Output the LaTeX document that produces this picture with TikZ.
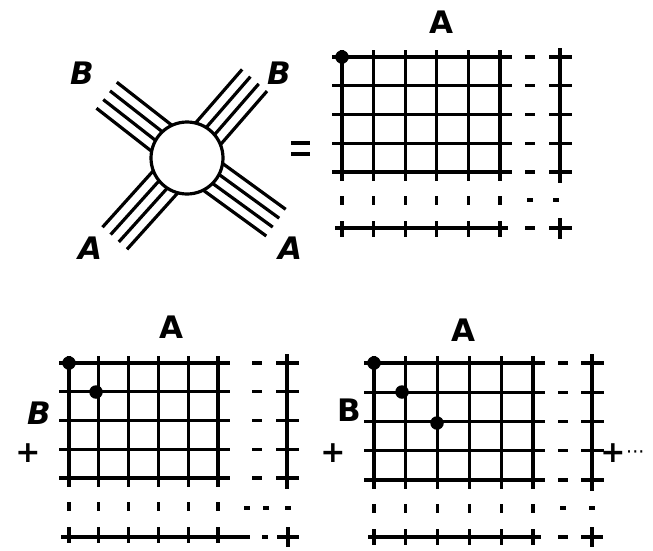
\documentclass[tikz,border=0pt]{standalone}
\usepackage{fontspec}
\setsansfont{DejaVu Sans}
\usetikzlibrary{calc}
\tikzset{
  ln/.style={line width=3.2pt},
  lbl/.style={font=\sffamily\bfseries\fontsize{31}{31}\selectfont, inner sep=0pt},
  lbli/.style={font=\sffamily\bfseries\itshape\fontsize{31}{31}\selectfont, inner sep=0pt},
  plusl/.style={font=\sffamily\bfseries\fontsize{30}{30}\selectfont, inner sep=0pt},
  dotsl/.style={font=\sffamily\fontsize{19}{19}\selectfont, inner sep=0pt},
  blob/.style={circle, fill=black, inner sep=0pt, minimum size=13.5pt},
}
\newcommand\gridcore[6]{%
  \foreach \i in {0,...,4}{%
    \draw[ln] ({#1-10},{#2+\i*#4}) -- ({#1+5*#3+12},{#2+\i*#4});
    \draw[ln] ({#5-5},{#2+\i*#4}) -- ({#5+5},{#2+\i*#4});
    \draw[ln] ({#6-11},{#2+\i*#4}) -- ({#6+12},{#2+\i*#4});
  }
  \foreach \j in {0,...,5}{%
    \draw[ln] ({#1+\j*#3},{#2-7}) -- ({#1+\j*#3},{#2+4*#4+9});
    \draw[ln] ({#1+\j*#3},{#2+4*#4+24}) -- ({#1+\j*#3},{#2+4*#4+33});
    \draw[ln] ({#1+\j*#3},{#2+4*#4+49}) -- ({#1+\j*#3},{#2+4*#4+65});
  }
  \draw[ln] (#6,{#2-9}) -- (#6,{#2+4*#4+11});
}
\begin{document}
\begin{tikzpicture}[x=1pt,y=-1pt]
\useasboundingbox (0,0) rectangle (653,550);

% ---- vertex diagram ----
\foreach \t/\L in {218/102, 311/103, 132/108, 36/110}{%
  \foreach \o in {-16.5,-5.5,5.5,16.5}{%
    \pgfmathsetmacro\s{sqrt(36*36-\o*\o)}
    \draw[ln] ($(187,158)+(\t:\s)+(\t+90:\o)$) -- ($(187,158)+(\t:\L)+(\t+90:\o)$);
  }
}
\node[circle, draw, ln, fill=white, minimum size=72pt, inner sep=0pt] (C) at (187,158) {};
\node[lbli] (bul) at (82,73) {B};
\node[lbli] (bur) at (279,73) {B};
\node[lbli] (all) at (90,248) {A};
\node[lbli] (alr) at (290,248) {A};
\draw[ln] (291,143) -- (310,143);
\draw[ln] (291,154) -- (310,154);

% ---- top grid ----
\node[lbl] (atop) at (441,22) {A};
\gridcore{342}{57}{31.6}{28.75}{530}{560}
\draw[ln] (527,200) -- (533,200);
\draw[ln] (553,200) -- (559,200);
\draw[ln] (335,228) -- (508,228);
\draw[ln] (525,228) -- (535,228);
\draw[ln] (549,228) -- (572,228);
\draw[ln] (560,218) -- (560,239);
\node[blob] (d0) at (342,57) {};

% ---- bottom-left grid ----
\node[lbl] (abl) at (171,327) {A};
\node[lbli] (bbl) at (39,413) {B};
\node[plusl] (pbl) at (28,453) {+};
\gridcore{69}{363}{29.8}{28.75}{257}{287}
\draw[ln] (244,508) -- (250,508);
\draw[ln] (263,508) -- (269,508);
\draw[ln] (285,508) -- (291,508);
\draw[ln] (61,537) -- (250,537);
\draw[ln] (262,537) -- (268,537);
\draw[ln] (277,537) -- (299,537);
\draw[ln] (288,527) -- (288,547);
\node[blob] (d1) at (69,363) {};
\node[blob] (d2) at (96,392) {};

% ---- bottom-right grid ----
\node[lbl] (abr) at (463,330) {A};
\node[lbl] (bbr) at (349,410) {B};
\node[plusl] (pbr) at (333,453) {+};
\node[plusl] (pr) at (613,453) {+};
\node[dotsl, anchor=west] (pdots) at (626,455) {···};
\gridcore{374}{363}{31.8}{29.25}{563}{592}
\draw[ln] (560,508) -- (566,508);
\draw[ln] (589,508) -- (595,508);
\draw[ln] (368,537) -- (541,537);
\draw[ln] (558,537) -- (568,537);
\draw[ln] (581,537) -- (603,537);
\draw[ln] (592,527) -- (592,547);
\node[blob] (d3) at (374,363) {};
\node[blob] (d4) at (402,392) {};
\node[blob] (d5) at (437,423) {};
\end{tikzpicture}
\end{document}
